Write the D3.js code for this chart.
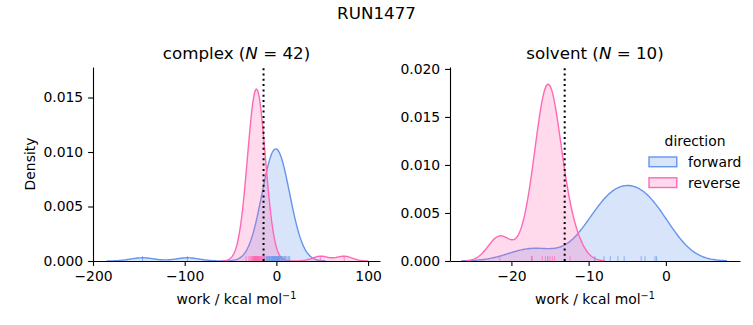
<!DOCTYPE html>
<html lang="en">
<head>
<meta charset="UTF-8" />
<title>RUN1477 work distributions</title>
<script src="https://d3js.org/d3.v7.min.js"></script>
<style>
  body { margin: 0; background: #fff; }
  svg { font-family: "DejaVu Sans", sans-serif; }
</style>
</head>
<body>
<div id="chart"></div>
<script>
const width = 753, height = 325;

// nonequilibrium work values (kcal/mol), one per rug tick
const complexForward = [
  -146, -97,
  -13.5, -12.5, -11, -10, -9.5, -9, -8, -7.5, -7, -6, -5.5, -5, -4.5, -4,
  -3.5, -3, -2.5, -2, -1.5, -1, -0.5, 0, 0.5, 1, 1.5, 2, 2.5, 3, 3.5, 4,
  5, 5.5, 6, 7, 8, 9, 10, 11.5, 13, 14.5
];
const complexReverse = [
  -33, -30, -28.5, -27.5, -26.5, -26, -25.5, -25, -24.5, -24.5, -24, -24,
  -23.5, -23.5, -23, -23, -22.5, -22.5, -22, -22, -22, -21.5, -21.5, -21,
  -21, -20.5, -20.5, -20, -20, -19.5, -19, -18.5, -18, -17.5, -17, -16.5,
  -16, -15, -14, -12.8,
  48, 74
];
const solventForward = [-17.4, -9.2, -8.0, -7.2, -6.2, -5.4, -3.2, -2.7, -1.4, -1.2];
const solventReverse = [-21.5, -17.3, -16.0, -15.6, -15.3, -15.3, -15.0, -14.7, -14.4, -12.4];

// free energy estimates drawn as dotted lines
const complexDG = -14.0;
const solventDG = -13.1;

const complexDomainX = [-200, 113];
const complexDomainY = [0, 0.0178];
const complexTicksX = [-200, -100, 0, 100];
const complexTicksY = [0, 0.005, 0.010, 0.015];

const solventDomainX = [-27.95, 9.6];
const solventDomainY = [0, 0.0202];
const solventTicksX = [-20, -10, 0];
const solventTicksY = [0, 0.005, 0.010, 0.015, 0.020];

const directions = ["forward", "reverse"];
const colors = { forward: "#6495ed", reverse: "#ff69b4" };

// every density shares one normalisation over all work values in the run
const totalCount = complexForward.length + complexReverse.length +
  solventForward.length + solventReverse.length;

// gaussian kde, Scott bandwidth, evaluated on 200 points with cut = 3
function kde(values) {
  const n = values.length;
  const bw = d3.deviation(values) * Math.pow(n, -0.2);
  const lo = d3.min(values) - 3 * bw, hi = d3.max(values) + 3 * bw;
  const weight = n / totalCount;
  const norm = bw * Math.sqrt(2 * Math.PI);
  return d3.range(200).map(i => {
    const x = lo + (hi - lo) * i / 199;
    const d = d3.mean(values, v => Math.exp(-0.5 * ((x - v) / bw) ** 2)) / norm;
    return [x, weight * d];
  });
}

const svg = d3.select("#chart").append("svg")
  .attr("width", width).attr("height", height);

svg.append("text")
  .attr("x", 376.5).attr("y", 19)
  .attr("text-anchor", "middle")
  .attr("font-size", 16.7)
  .text("RUN1477");

const plotTop = 67, plotBottom = 261;
const fmt = d3.format(".3f");

function panel(opts) {
  const x = d3.scaleLinear().domain(opts.domainX).range([opts.left, opts.right]);
  const y = d3.scaleLinear().domain(opts.domainY).range([plotBottom, plotTop]);
  const g = svg.append("g");

  const clipId = "clip-" + opts.name;
  g.append("clipPath").attr("id", clipId)
    .append("rect")
    .attr("x", opts.left).attr("y", plotTop)
    .attr("width", opts.right - opts.left).attr("height", plotBottom - plotTop);

  const plot = g.append("g").attr("clip-path", `url(#${clipId})`);

  const area = d3.area().x(d => x(d[0])).y0(y(0)).y1(d => y(d[1]));
  const line = d3.line().x(d => x(d[0])).y(d => y(d[1]));

  directions.forEach(dir => {
    const dens = kde(opts.data[dir]);
    plot.append("path")
      .attr("d", area(dens))
      .attr("fill", colors[dir])
      .attr("fill-opacity", 0.25);
    plot.append("path")
      .attr("d", line(dens))
      .attr("fill", "none")
      .attr("stroke", colors[dir])
      .attr("stroke-width", 1.4);
  });

  // rug of individual work values
  const rugH = 0.025 * (plotBottom - plotTop);
  directions.forEach(dir => {
    plot.selectAll(null)
      .data(opts.data[dir])
      .join("line")
      .attr("x1", d => x(d)).attr("x2", d => x(d))
      .attr("y1", plotBottom).attr("y2", plotBottom - rugH)
      .attr("stroke", colors[dir])
      .attr("stroke-opacity", 0.7)
      .attr("stroke-width", 1);
  });

  plot.append("line")
    .attr("x1", x(opts.dg)).attr("x2", x(opts.dg))
    .attr("y1", plotBottom).attr("y2", plotTop)
    .attr("stroke", "#000")
    .attr("stroke-width", 2)
    .attr("stroke-dasharray", "2,3.3");

  const xAxis = g.append("g")
    .attr("transform", `translate(0,${plotBottom})`)
    .call(d3.axisBottom(x).tickValues(opts.ticksX).tickFormat(d3.format("d"))
      .tickSize(4.9).tickPadding(4.9).tickSizeOuter(0));
  const yAxis = g.append("g")
    .attr("transform", `translate(${opts.left},0)`)
    .call(d3.axisLeft(y).tickValues(opts.ticksY).tickFormat(fmt)
      .tickSize(4.9).tickPadding(4.9).tickSizeOuter(0));

  [xAxis, yAxis].forEach(a => {
    a.attr("font-family", null).attr("font-size", 13.9);
    a.selectAll("path, line").attr("stroke", "#000").attr("stroke-width", 1.1);
    a.selectAll("text").attr("fill", "#000");
  });

  const cx = (opts.left + opts.right) / 2;
  const title = g.append("text")
    .attr("x", cx).attr("y", 59)
    .attr("text-anchor", "middle")
    .attr("font-size", 16.7);
  title.append("tspan").text(opts.name + " (");
  title.append("tspan").attr("font-style", "italic").text("N");
  title.append("tspan").text(" = " + opts.n + ")");

  const xl = g.append("text")
    .attr("x", cx).attr("y", 304)
    .attr("text-anchor", "middle")
    .attr("font-size", 13.9);
  xl.append("tspan").text("work / kcal mol");
  xl.append("tspan").attr("font-size", 9.7).attr("dy", -5.5).text("\u22121");

  return { x, y };
}

panel({
  name: "complex", n: 42, left: 93, right: 380,
  domainX: complexDomainX, domainY: complexDomainY,
  ticksX: complexTicksX, ticksY: complexTicksY,
  data: { forward: complexForward, reverse: complexReverse },
  dg: complexDG
});

panel({
  name: "solvent", n: 10, left: 450, right: 740,
  domainX: solventDomainX, domainY: solventDomainY,
  ticksX: solventTicksX, ticksY: solventTicksY,
  data: { forward: solventForward, reverse: solventReverse },
  dg: solventDG
});

svg.append("text")
  .attr("x", 30).attr("y", 164)
  .attr("transform", "rotate(-90,30,164)")
  .attr("text-anchor", "middle")
  .attr("dominant-baseline", "central")
  .attr("font-size", 13.9)
  .text("Density");

// legend for direction hue
const legend = svg.append("g");
legend.append("text")
  .attr("x", 695).attr("y", 146)
  .attr("text-anchor", "middle")
  .attr("font-size", 13.9)
  .text("direction");
directions.forEach((dir, i) => {
  const yy = 157 + i * 20.8;
  legend.append("rect")
    .attr("x", 649).attr("y", yy)
    .attr("width", 27.8).attr("height", 9.7)
    .attr("fill", d3.color(colors[dir]).copy({ opacity: 0.25 }))
    .attr("stroke", colors[dir])
    .attr("stroke-width", 1.4);
  legend.append("text")
    .attr("x", 688).attr("y", yy + 10)
    .attr("font-size", 13.9)
    .text(dir);
});
</script>
</body>
</html>
